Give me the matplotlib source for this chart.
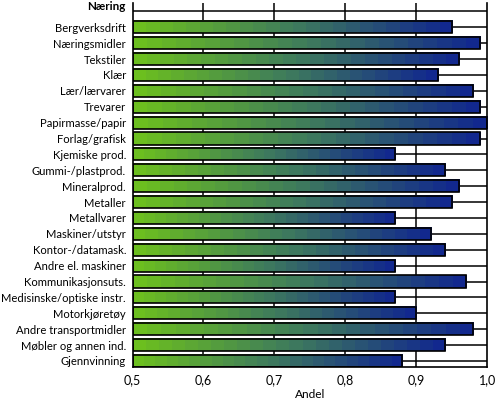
#!/usr/bin/env python3
"""Horizontal bar chart of share per industry, bars with green-to-blue gradient."""

import numpy as np
import matplotlib
matplotlib.use("Agg")
import matplotlib.pyplot as plt
from matplotlib.colors import LinearSegmentedColormap
from matplotlib.patches import Rectangle
from matplotlib.ticker import FuncFormatter

categories = [
    "Bergverksdrift", "Næringsmidler", "Tekstiler", "Klær", "Lær/lærvarer",
    "Trevarer", "Papirmasse/papir", "Forlag/grafisk", "Kjemiske prod.",
    "Gummi-/plastprod.", "Mineralprod.", "Metaller", "Metallvarer",
    "Maskiner/utstyr", "Kontor-/datamask.", "Andre el. maskiner",
    "Kommunikasjonsuts.", "Medisinske/optiske instr.", "Motorkjøretøy",
    "Andre transportmidler", "Møbler og annen ind.", "Gjennvinning",
]
values = [
    0.95, 0.99, 0.96, 0.93, 0.98,
    0.99, 1.00, 0.99, 0.87,
    0.94, 0.96, 0.95, 0.87,
    0.92, 0.94, 0.87,
    0.97, 0.87, 0.90,
    0.98, 0.94, 0.88,
]
x_ticks = [0.5, 0.6, 0.7, 0.8, 0.9, 1.0]

plt.rcParams['font.family'] = ['Lato', 'DejaVu Sans']

fig = plt.figure(figsize=(4.96, 3.99), dpi=100)
ax = fig.add_axes([132.5 / 496, 1 - 367 / 399, (487.3 - 132.5) / 496, (367 - 3) / 399])

cmap = LinearSegmentedColormap.from_list("bar", ["#6cbf1f", "#3f7c5c", "#12288e"])
grad = np.linspace(0, 1, 24).reshape(1, -1)
h = 0.76
pos = np.arange(1, len(categories) + 1)

x0 = x_ticks[0]
for y, v in zip(pos, values):
    ax.imshow(grad, cmap=cmap, aspect="auto", interpolation="nearest",
              extent=[x0, v, y + h / 2, y - h / 2], zorder=2)
    ax.add_patch(Rectangle((x0, y - h / 2), v - x0, h, fill=False,
                           edgecolor="black", linewidth=1.2, zorder=3))

ax.set_xlim(x0, x_ticks[-1])
ax.set_ylim(len(categories) + 0.38, -0.53)

# gridlines
for xv in x_ticks[1:-1]:
    ax.axvline(xv, color="black", linewidth=1.1, zorder=1)
for yv in range(0, len(categories) + 1):
    ax.axhline(yv, color="black", linewidth=1.1, zorder=1)

ax.set_yticks(pos)
ax.set_yticklabels(categories, fontsize=8.1)
ax.set_xticks(x_ticks)
ax.xaxis.set_major_formatter(FuncFormatter(lambda v, _: f"{v:.1f}".replace(".", ",")))
ax.tick_params(axis="y", length=0, pad=4.6)
ax.tick_params(axis="x", length=0, labelsize=9, pad=5)
ax.set_xlabel("Andel", fontsize=8.6, labelpad=2)

ax.spines["top"].set_visible(False)
for s in ("left", "right", "bottom"):
    ax.spines[s].set_linewidth(1.2)

fig.text(126 / 496, 1 - 7 / 399, "Næring", fontsize=8.4, fontweight="bold",
         ha="right", va="center")

fig.savefig("out.png", dpi=100, facecolor="white")
